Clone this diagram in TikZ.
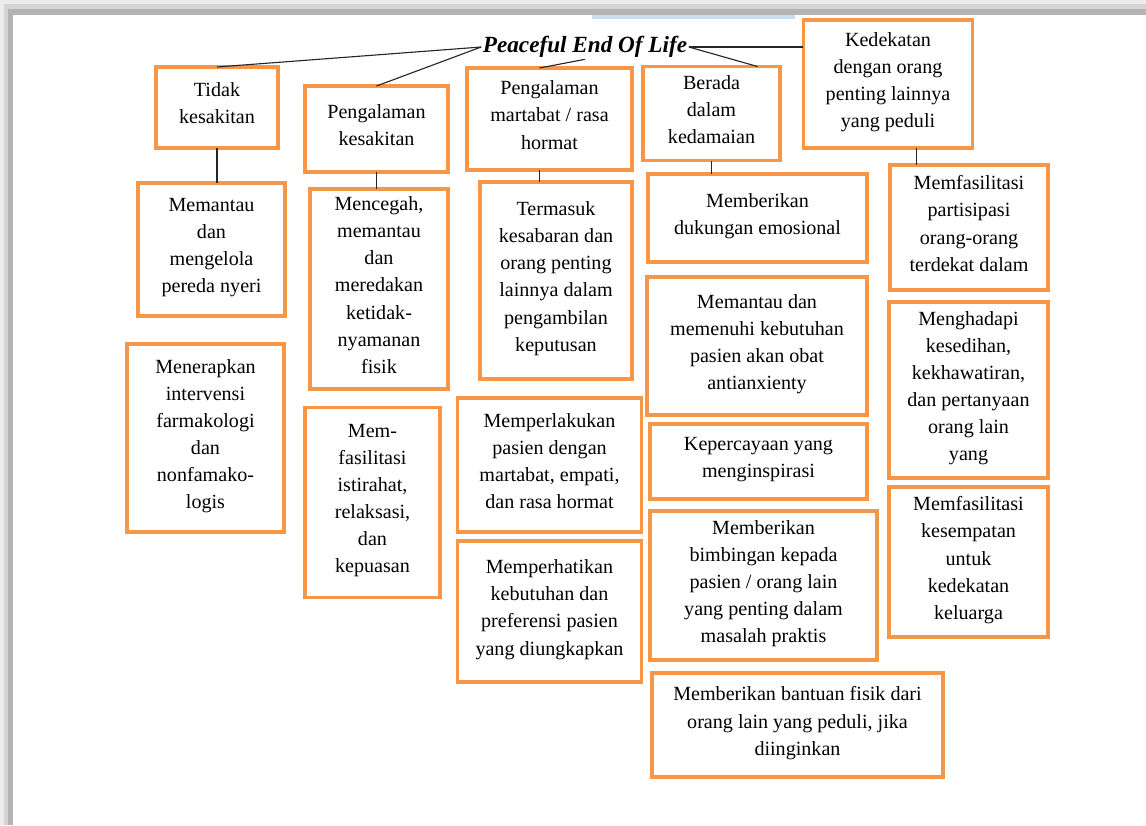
\documentclass[tikz,border=0pt]{standalone}
\usepackage{fontspec}
\setmainfont{Liberation Serif}
\usetikzlibrary{positioning}

\definecolor{oranye}{HTML}{F79646}
\definecolor{abuA}{RGB}{236,236,236}
\definecolor{abuB}{RGB}{212,212,212}
\definecolor{abuC}{RGB}{180,180,180}
\definecolor{biru}{RGB}{200,222,240}

\tikzset{
  kotak/.style={draw=oranye, line width=2.2pt, inner sep=2pt, outer sep=0pt,
    align=center, font=\fontsize{14.3}{19.3}\selectfont,
    execute at end node={\\[-13pt]\strut}},
  garis/.style={line width=0.8pt, black!85},
}

\begin{document}
\begin{tikzpicture}[x=0.025cm, y=-0.025cm]
  \useasboundingbox (0,0) rectangle (1146,825);

  % page frame of the screenshot
  \fill[abuA] (0,0) rectangle (1146,15);
  \fill[abuA] (0,0) rectangle (13,825);
  \fill[abuB] (4,4) rectangle (1146,15);
  \fill[abuB] (4,4) rectangle (13,825);
  \fill[abuC] (8,9) rectangle (1146,15);
  \fill[abuC] (8,9) rectangle (13,825);
  \fill[biru] (592,15) rectangle (795,19);

  \node[font=\fontsize{16.5}{20}\selectfont\bfseries\itshape, inner sep=1pt] (judul) at (585,47) {Peaceful End Of Life};

  % first row
  \node[kotak, minimum width=3.05cm, minimum height=2.025cm] (tidak) at (217,107.5) {Tidak\\kesakitan};
  \node[kotak, minimum width=3.575cm, minimum height=2.15cm] (kesakitan) at (376.5,129) {Pengalaman\\kesakitan};
  \node[kotak, minimum width=4.125cm, minimum height=2.55cm] (martabat) at (549.5,119) {Pengalaman\\martabat / rasa\\hormat};
  \node[kotak, minimum width=3.425cm, minimum height=2.35cm] (berada) at (711.5,113.5) {Berada\\dalam\\kedamaian};
  \node[kotak, minimum width=4.225cm, minimum height=3.2cm] (kedekatan) at (888,84) {Kedekatan\\dengan orang\\penting lainnya\\yang peduli};

  % column: tidak kesakitan
  \node[kotak, minimum width=3.675cm, minimum height=3.325cm] (nyeri) at (211.5,249.5) {Memantau\\dan\\mengelola\\pereda nyeri};
  \node[kotak, minimum width=3.925cm, minimum height=4.7cm] (farmako) at (205.5,438) {Menerapkan\\intervensi\\farmakologi\\dan\\nonfamako-\\logis};

  % column: pengalaman kesakitan
  \node[kotak, minimum width=3.45cm, minimum height=5cm] (mencegah) at (379,289) {Mencegah,\\memantau\\dan\\meredakan\\ketidak-\\nyamanan\\fisik};
  \node[kotak, minimum width=3.375cm, minimum height=4.75cm] (istirahat) at (372.5,502.5) {Mem-\\fasilitasi\\istirahat,\\relaksasi,\\dan\\kepuasan};

  % column: martabat
  \node[kotak, minimum width=3.8cm, minimum height=4.925cm] (termasuk) at (556,280.5) {Termasuk\\kesabaran dan\\orang penting\\lainnya dalam\\pengambilan\\keputusan};
  \node[kotak, minimum width=4.6cm, minimum height=3.35cm] (empati) at (549.5,465) {Memperlakukan\\pasien dengan\\martabat, empati,\\dan rasa hormat};
  \node[kotak, minimum width=4.6cm, minimum height=3.525cm] (preferensi) at (549.5,611.5) {Memperhatikan\\kebutuhan dan\\preferensi pasien\\yang diungkapkan};

  % column: kedamaian
  \node[kotak, minimum width=5.475cm, minimum height=2.2cm] (dukungan) at (757.5,218) {Memberikan\\dukungan emosional};
  \node[kotak, minimum width=5.5cm, minimum height=3.45cm] (obat) at (757,346) {Memantau dan\\memenuhi kebutuhan\\pasien akan obat\\antianxienty};
  \node[kotak, minimum width=5.425cm, minimum height=1.875cm] (inspirasi) at (758.5,461.5) {Kepercayaan yang\\menginspirasi};
  \node[kotak, minimum width=5.675cm, minimum height=3.725cm] (bimbingan) at (763.5,585.5) {Memberikan\\bimbingan kepada\\pasien / orang lain\\yang penting dalam\\masalah praktis};
  \node[kotak, minimum width=7.275cm, minimum height=2.6cm] (bantuan) at (797.5,725) {Memberikan bantuan fisik dari\\orang lain yang peduli, jika\\diinginkan};

  % column: kedekatan
  \node[kotak, minimum width=3.95cm, minimum height=3.125cm] (partisipasi) at (969,227.5) {Memfasilitasi\\partisipasi\\orang-orang\\terdekat dalam};
  \node[kotak, minimum width=3.975cm, minimum height=4.4cm] (kesedihan) at (968.5,390) {Menghadapi\\kesedihan,\\kekhawatiran,\\dan pertanyaan\\orang lain\\yang};
  \node[kotak, minimum width=3.975cm, minimum height=3.75cm] (keluarga) at (968.5,562) {Memfasilitasi\\kesempatan\\untuk\\kedekatan\\keluarga};

  % lines from the title
  \draw[garis] (judul.west) -- (tidak.north);
  \draw[garis] (judul.west) -- (kesakitan.north);
  \draw[garis] (judul.south) -- ([xshift=-0.25cm]martabat.north);
  \draw[garis] (judul.east) -- ([xshift=1.15cm]berada.north);
  \draw[garis] (judul.east) -- (judul.east -| kedekatan.west);

  % short links down
  \draw[garis] (tidak.south) -- (tidak.south |- nyeri.north);
  \draw[garis] (kesakitan.south) -- (kesakitan.south |- mencegah.north);
  \draw[garis] ([xshift=-0.24cm]martabat.south) -- ([xshift=-0.24cm]martabat.south |- termasuk.north);
  \draw[garis] (berada.south) -- (berada.south |- dukungan.north);
  \draw[garis] ([xshift=0.71cm]kedekatan.south) -- ([xshift=0.71cm]kedekatan.south |- partisipasi.north);
\end{tikzpicture}
\end{document}
